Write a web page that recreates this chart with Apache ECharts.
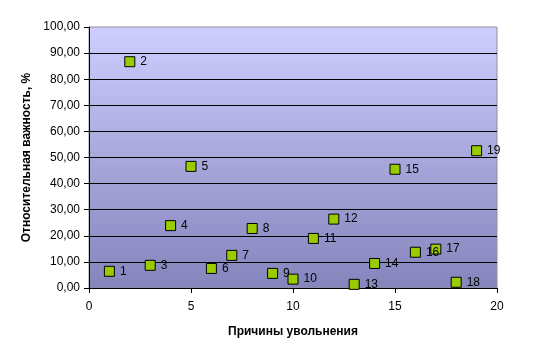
<!DOCTYPE html>
<html><head><meta charset="utf-8">
<script src="https://cdn.jsdelivr.net/npm/echarts@6/dist/echarts.min.js"></script>
<style>html,body{margin:0;padding:0;background:#fff}#c{width:535px;height:360px}</style>
</head><body><div id="c"></div>
<script>
const reasons = [1,2,3,4,5,6,7,8,9,10,11,12,13,14,15,16,17,18,19];
const importance = [6.4,86.7,8.7,23.9,46.6,7.5,12.5,22.8,5.6,3.4,19.0,26.4,1.4,9.4,45.5,13.7,14.9,2.2,52.6];
const pointLabels = ['1','2','3','4','5','6','7','8','9','10','11','12','13','14','15','16','17','18','19'];
const xTitle = 'Причины увольнения';
const yTitle = 'Относительная важность, %';

const chart = echarts.init(document.getElementById('c'));
const font = 'Liberation Sans, Arial, sans-serif';
chart.setOption({
  animation: false,
  grid: {
    left: 89, right: 38, top: 27, bottom: 72,
    show: true, borderColor: '#909090', borderWidth: 1,
    backgroundColor: new echarts.graphic.LinearGradient(0,0,0,1,[
      {offset:0,color:'#ceceff'},{offset:0.5,color:'#a8a8dc'},{offset:1,color:'#8585bd'}])
  },
  xAxis: {
    type: 'value', min: 0, max: 20, interval: 5,
    name: xTitle, nameLocation: 'middle', nameGap: 38,
    nameTextStyle: {fontFamily: font, fontSize: 12, fontWeight: 'bold', color: '#000'},
    axisLine: {show: true, lineStyle: {color: '#000', width: 1}},
    axisTick: {show: true, length: 5, lineStyle: {color: '#000'}},
    axisLabel: {fontFamily: font, fontSize: 12, color: '#000', margin: 13},
    splitLine: {show: false}
  },
  yAxis: {
    type: 'value', min: 0, max: 100, interval: 10,
    name: yTitle, nameLocation: 'middle', nameGap: 51,
    nameTextStyle: {fontFamily: font, fontSize: 12, fontWeight: 'bold', color: '#000'},
    axisLine: {show: true, lineStyle: {color: '#000', width: 1}},
    axisTick: {show: true, length: 5, lineStyle: {color: '#000'}},
    axisLabel: {fontFamily: font, fontSize: 12, color: '#000', margin: 9,
      formatter: v => v.toFixed(2).replace('.', ',')},
    splitLine: {show: true, showMaxLine: false, showMinLine: false, lineStyle: {color: '#000', width: 1}}
  },
  series: [{
    type: 'scatter',
    symbol: 'rect', symbolSize: 10,
    itemStyle: {color: '#99cc00', borderColor: '#000', borderWidth: 1, opacity: 1},
    label: {show: true, position: 'right', distance: 5, fontFamily: font, fontSize: 12, color: '#000',
      formatter: p => pointLabels[p.dataIndex]},
    data: reasons.map((x, i) => [x, importance[i]])
  }]
});
</script></body></html>
